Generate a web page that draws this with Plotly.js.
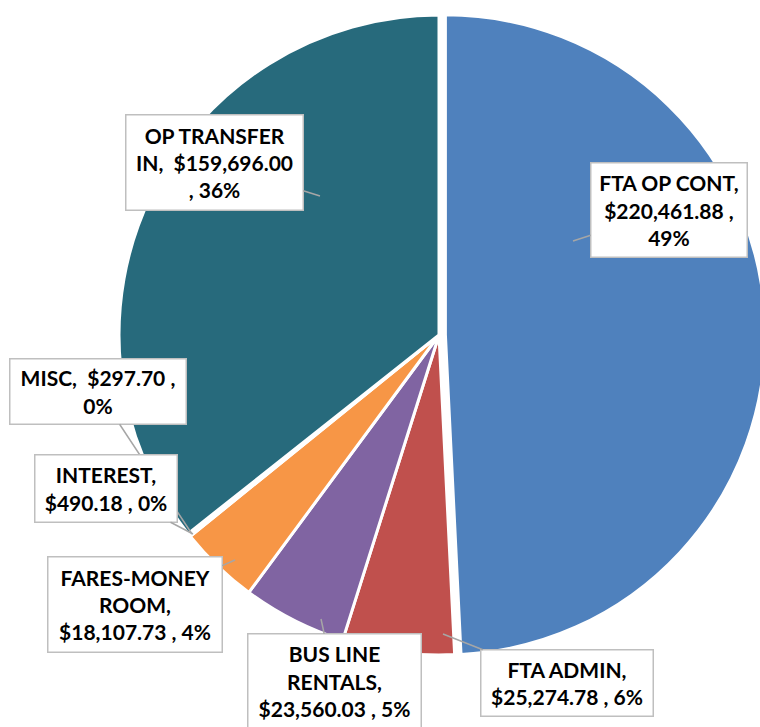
<!DOCTYPE html>
<html>
<head>
<meta charset="utf-8">
<script src="https://cdn.plot.ly/plotly-3.0.1.min.js"></script>
<style>
  html, body { margin: 0; padding: 0; overflow: hidden; background: #fff; }
  #chart { width: 780px; height: 727px; }
</style>
</head>
<body>
<div id="chart"></div>
<script>
// ---- data ----
const categories = ['FTA OP CONT', 'FTA ADMIN', 'BUS LINE RENTALS', 'FARES-MONEY ROOM', 'INTEREST', 'MISC', 'OP TRANSFER IN'];
const values = [220461.88, 25274.78, 23560.03, 18107.73, 490.18, 297.70, 159696.00];
const sliceColors = ['#4F81BD', '#C0504D', '#8064A2', '#F79646', '#4BACC6', '#9BBB59', '#276A7C'];
// how each label's name is wrapped in its callout
const nameLines = ['FTA OP CONT', 'FTA ADMIN', 'BUS LINE<br>RENTALS', 'FARES-MONEY<br>ROOM', 'INTEREST', 'MISC', 'OP TRANSFER<br>IN'];

// ---- layout helpers (pixel geometry of the callouts) ----
const W = 780, H = 727;
const total = values.reduce((a, b) => a + b, 0);
const money = v => '$' + v.toLocaleString('en-US', {minimumFractionDigits: 2, maximumFractionDigits: 2});
const pct = v => Math.round(v / total * 100) + '%';

const textFor = [
  i => nameLines[i] + ',<br>' + money(values[i]) + ' ,<br>' + pct(values[i]),
  i => nameLines[i] + ',<br>' + money(values[i]) + ' , ' + pct(values[i]),
  i => nameLines[i] + ',<br>' + money(values[i]) + ' , ' + pct(values[i]),
  i => nameLines[i] + ',<br>' + money(values[i]) + ' , ' + pct(values[i]),
  i => nameLines[i] + ',<br>' + money(values[i]) + ' , ' + pct(values[i]),
  i => nameLines[i] + ',  ' + money(values[i]) + ' ,<br>' + pct(values[i]),
  i => nameLines[i] + ',  ' + money(values[i]) + '<br>, ' + pct(values[i])
];

// callout box: [left, top, right, bottom] and pointer tip [x, y] in pixels
const boxes = [
  [590, 162, 748, 258],
  [480, 649, 654, 717],
  [247, 633, 422, 729],
  [47, 556, 223, 653],
  [34, 454, 178, 523],
  [9, 358, 187, 425],
  [125, 114, 304, 211]
];
const tips = [
  [573, 241],
  [443, 634],
  [321, 619],
  [235, 560],
  [193, 534],
  [192, 534],
  [320, 196]
];

const BW = 1.5, PAD = 4;
const order = [0, 1, 2, 3, 6, 5, 4]; // MISC drawn before INTEREST
const annotations = order.map(i => {
  const b = boxes[i], t = tips[i];
  const cx = (b[0] + b[2]) / 2, cy = (b[1] + b[3]) / 2;
  return {
    xref: 'paper', yref: 'paper',
    x: t[0] / W, y: 1 - t[1] / H,
    ax: cx - t[0], ay: cy - t[1],
    axref: 'pixel', ayref: 'pixel',
    text: '<b>' + textFor[i](i) + '</b>',
    showarrow: true, arrowhead: 0, arrowwidth: 1.5, arrowcolor: '#A6A6A6',
    standoff: 0, startstandoff: 0,
    bgcolor: '#FFFFFF', bordercolor: '#BFBFBF', borderwidth: BW, borderpad: PAD,
    width: (b[2] - b[0]) - 2 * (BW + PAD),
    height: (b[3] - b[1]) - 2 * (BW + PAD),
    align: 'center', valign: 'middle',
    font: {family: 'Lato, "Open Sans", sans-serif', size: 21, color: '#000000'}
  };
});

// pie geometry: center (439,335) px, radius 320 px, pull 0.02
const pullArr = [0.02, 0, 0, 0, 0, 0, 0];
const R = 320, CX = 439, CY = 335, P = 0.02;
const half = R * (1 + P);
const trace = {
  type: 'pie',
  labels: categories,
  values: values,
  sort: false,
  direction: 'clockwise',
  rotation: 0,
  pull: pullArr,
  textinfo: 'none',
  hoverinfo: 'label+value+percent',
  marker: {colors: sliceColors, line: {color: '#FFFFFF', width: 3}},
  domain: {
    x: [(CX - half) / W, (CX + half) / W],
    y: [1 - (CY + half) / H, 1 - (CY - half) / H]
  },
  showlegend: false
};

const layout = {
  width: W, height: H,
  margin: {l: 0, r: 0, t: 0, b: 0},
  paper_bgcolor: '#FFFFFF',
  showlegend: false,
  annotations: annotations
};

Plotly.newPlot('chart', [trace], layout, {displayModeBar: false, staticPlot: true});
</script>
</body>
</html>
